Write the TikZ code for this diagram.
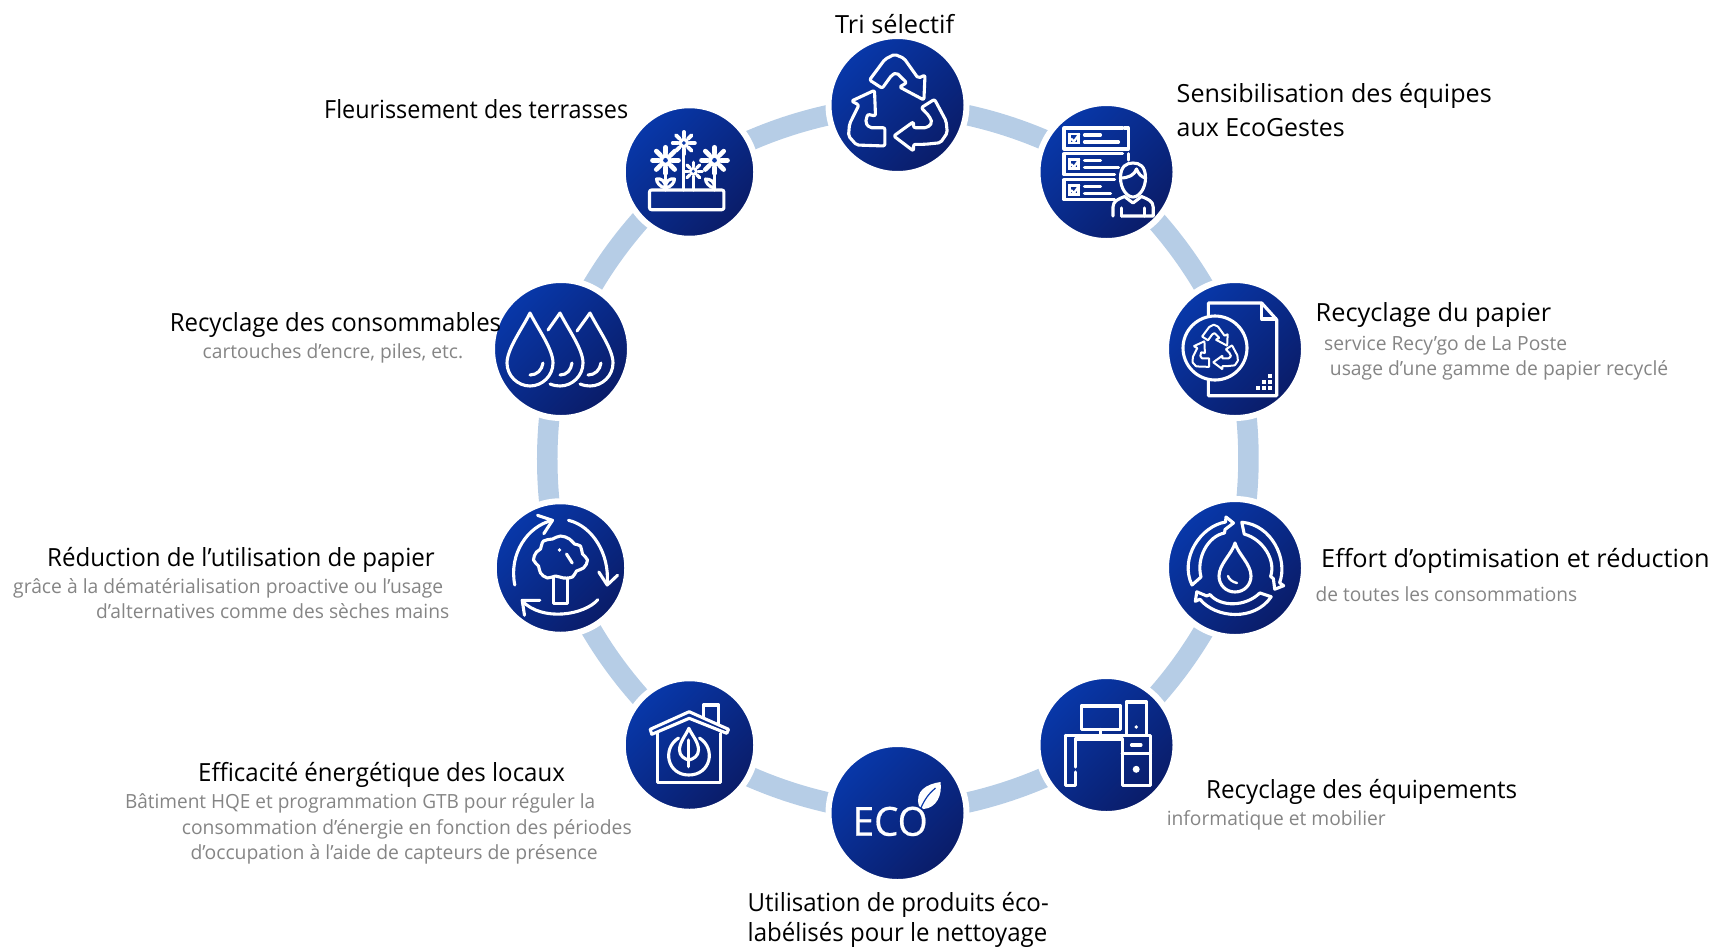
\documentclass[tikz,border=0pt]{standalone}
\usepackage{fontspec}
\usepackage{graphicx}
\setmainfont{Open Sans}
\usetikzlibrary{backgrounds,calc}
\definecolor{ringblue}{HTML}{B6CDE6}
\definecolor{subgrey}{HTML}{858585}
\definecolor{discA}{HTML}{0838AA}
\definecolor{discB}{HTML}{0A1C68}
\newcommand{\fitw}[2]{\resizebox{#1pt}{\height}{#2}}
\newcommand{\recyclearrows}[1]{%
  \draw[ico,rounded corners=#1] (-28,-25)--(-12.6,-45.7)--(-3,-50.7)--(6.5,-46.7)--(20.7,-26.7)--(27.5,-30)--(26.4,-5)--(2,-18)--(9.2,-22.3)--(-1,-32.3)--(-5.7,-30)--(-15.3,-16.7)--cycle;
  \draw[ico,rounded corners=#1] (-23,-14.7)--(-46,-4)--(-38.6,0)--(-48,19)--(-49,31)--(-41,40)--(-12.6,41)--(-12.6,22.7)--(-28,22.7)--(-32,17.7)--(-30,9.3)--(-22,11)--cycle;
  \draw[ico,rounded corners=#1] (-3.8,31)--(16,16.7)--(16,22.7)--(29.7,22.7)--(34.7,17.7)--(31.6,11)--(23.7,2.7)--(37,-5.7)--(48.6,16)--(49.8,27.7)--(43,37.7)--(27.5,39.3)--(16,39.3)--(16,46)--cycle;
}
\newcommand{\daisy}[3]{% x y radius
  \foreach \a in {0,45,...,315}{\draw[white,line width=#3*0.36pt,line cap=round] ($(#1,#2)+(\a:#3*0.55pt)$) -- ($(#1,#2)+(\a:#3*1pt)$);}
  \fill[white] (#1,#2) circle[radius=#3*0.5pt];
  \fill[discA] (#1,#2) circle[radius=#3*0.18pt];
}
\newcommand{\waterdrop}[1]{%
  \draw[ico] (#1,-36) .. controls (#1+8,-20) and (#1+23,0) .. (#1+23,14) .. controls (#1+23,27) and (#1+12,37) .. (#1,37) .. controls (#1-12,37) and (#1-23,27) .. (#1-23,14) .. controls (#1-23,0) and (#1-8,-20) .. cycle;
}
\tikzset{
  x=1pt,y=-1pt,
  disc/.style={circle,minimum size=138pt,inner sep=0pt,outer sep=0pt,draw=white,line width=6pt,top color=discA,bottom color=discB,shading angle=45},
  discsmall/.style={disc,minimum size=133.5pt},
  ringseg/.style={ringblue,line width=20.5pt,bend left=13.5,looseness=0.9},
  head/.style={anchor=base west,inner sep=0pt,font=\fontsize{25}{30}\selectfont,text=black},
  sub/.style={anchor=base west,inner sep=0pt,font=\fontsize{19.5}{24}\selectfont,text=subgrey},
  ico/.style={white,line width=3.1pt,line join=round,line cap=round},
}
\begin{document}
\begin{tikzpicture}
\useasboundingbox (0,0) rectangle (1716,946);
% discs
\node[disc] (tri) at (897.5,105) {};
\node[disc] (sens) at (1106.5,172) {};
\node[disc] (pap) at (1235,349) {};
\node[disc] (eff) at (1235,568) {};
\node[disc] (equ) at (1106.5,745) {};
\node[disc] (eco) at (897.5,813) {};
\node[discsmall] (loc) at (689.5,745) {};
\node[discsmall] (red) at (560.5,568) {};
\node[disc] (con) at (561,349) {};
\node[discsmall] (fle) at (689.5,172) {};
% ring
\begin{scope}[on background layer]
\draw[ringseg] (tri.center) to (sens.center);
\draw[ringseg] (sens.center) to (pap.center);
\draw[ringseg] (pap.center) to (eff.center);
\draw[ringseg] (eff.center) to (equ.center);
\draw[ringseg] (equ.center) to (eco.center);
\draw[ringseg] (eco.center) to (loc.center);
\draw[ringseg] (loc.center) to (red.center);
\draw[ringseg] (red.center) to (con.center);
\draw[ringseg] (con.center) to (fle.center);
\draw[ringseg] (fle.center) to (tri.center);
\end{scope}
% icon: tri
\begin{scope}[shift={(tri.center)}]
\recyclearrows{2pt}
\end{scope}
% icon: sens
\begin{scope}[shift={(sens.center)}]
\draw[ico] (16,-44)--(-42.5,-44)--(-42.5,-23)--(21.8,-23)--(21.8,-44)--(18,-44);
\draw[ico] (16,-18.3)--(-42.5,-18.3)--(-42.5,2.7)--(8,2.7);
\draw[ico] (21.8,-18.3)--(21.8,-12);
\draw[ico] (8,7.7)--(-42.5,7.7)--(-42.5,27.7)--(8,27.7);
\foreach \yy in {-33.5,-8,18}{
  \draw[white,line width=2.2pt] (-37,\yy-4.5) rectangle (-28,\yy+4.5);
  \draw[white,line width=2.2pt] (-35.5,\yy)--(-32.5,\yy+3)--(-27,\yy-5);
  \draw[ico] (-22,\yy-3.5)--(-6,\yy-3.5);
  \draw[ico] (-22,\yy+3.5)--(\ifdim\yy pt<10pt 12\else 4\fi,\yy+3.5);
}
\draw[ico] (14,6) .. controls (14,-6) and (20,-9) .. (26.5,-9) .. controls (33,-9) and (39,-6) .. (39,6) .. controls (39,16) and (33,25) .. (26.5,25) .. controls (20,25) and (14,16) .. (14,6) -- cycle;
\draw[ico] (14,6) .. controls (22,6) and (28,3) .. (30,-3) .. controls (32,2) and (35,5) .. (39,6);
\draw[ico] (6.5,44)--(6.5,35) .. controls (6.5,29) and (12,27) .. (18,24.5)--(26.5,31)--(35,24.5) .. controls (41,27) and (46.7,29) .. (46.7,35)--(46.7,44)--(15,44);
\draw[ico] (15,36)--(15,44) (38,36)--(38,44);
\end{scope}
% icon: fleur
\begin{scope}[shift={(fle.center)}]
\draw[ico,rounded corners=2pt] (-40,18) rectangle (34.4,37.7);
\draw[ico] (-24,0)--(-24,18) (25,0)--(25,18) (-5.7,-18)--(-5.7,18) (3.8,8)--(3.8,18);
\draw[ico] (-24,16) .. controls (-30,15) and (-33,10) .. (-33,7) .. controls (-28,6) and (-24,9) .. (-24,16);
\draw[ico] (-24,16) .. controls (-18,15) and (-15,10) .. (-15,7) .. controls (-20,6) and (-24,9) .. (-24,16);
\draw[ico] (25,16) .. controls (19,15) and (16,10) .. (16,7) .. controls (21,7) and (25,9) .. (25,16);
\daisy{-24}{-11.7}{13}
\daisy{25}{-11.7}{13}
\daisy{-5.7}{-29}{11}
\daisy{3.8}{-0.7}{9}
\end{scope}
% icon: papier
\begin{scope}[shift={(pap.center)}]
\draw[ico,line cap=butt] (-26.7,-31.5)--(-26.7,-46)--(26.7,-46)--(41.7,-29.3)--(41.7,46.7)--(-26.7,46.7)--(-26.7,30.5);
\draw[ico,line cap=butt] (26.7,-46)--(26.7,-30)--(41.7,-30);
\draw[ico] (-20,-1) circle[radius=32pt];
\begin{scope}[shift={(-20,-1)},scale=0.46]
\tikzset{ico/.style={white,line width=2pt,line join=miter}}
\recyclearrows{0.5pt}
\end{scope}
\foreach \p/\q in {35/27,29/33,35/33,23/39,29/39,35/39}{\fill[white] (\p-1.6,\q-1.6) rectangle (\p+1.6,\q+1.6);}
\end{scope}
% icon: effort
\begin{scope}[shift={(eff.center)}]
\foreach \r in {0,-120,-240}{
\begin{scope}[rotate=\r]
\draw[ico] (-43,17) .. controls (-56,-10) and (-34,-42) .. (-9.5,-46)--(-9,-51)--(-1.5,-45)--(-10,-38.5)--(-10.5,-35) .. controls (-27,-32) and (-39,-10) .. (-34,9)--cycle;
\end{scope}}
\draw[ico] (0,-25) .. controls (3,-14) and (16,-4) .. (16,8) .. controls (16,17) and (9,24) .. (0,24) .. controls (-9,24) and (-16,17) .. (-16,8) .. controls (-16,-4) and (-3,-14) .. cycle;
\draw[white,line width=2.4pt,line cap=round] (-7,8) .. controls (-6,11) and (-3,14) .. (2,15);
\end{scope}
% icon: equipement
\begin{scope}[shift={(equ.center)}]
\draw[ico] (-25.3,-39) rectangle (14,-15.7);
\draw[ico] (-6,-15.7)--(-6,-9.7);
\draw[ico] (19.7,-9.7)--(19.7,-43)--(40,-43)--(40,-9.7);
\fill[white] (29.7,-18) circle[radius=1.8pt];
\draw[ico] (-41,-9.7)--(44,-9.7)--(44,40.3)--(15.7,40.3)--(15.7,-6)--(-31,-6)--(-31,22);
\draw[ico] (-31,27)--(-31,40.3)--(-41,40.3)--(-41,-9.7);
\draw[ico] (15.7,8.7)--(44,8.7);
\draw[ico] (25,0)--(34.5,0);
\fill[white] (29.7,24.3) circle[radius=3.5pt];
\end{scope}
% icon: eco
\begin{scope}[shift={(eco.center)}]
\node[inner sep=0pt,anchor=base west,text=white,font=\fontsize{40}{41}\selectfont\addfontfeatures{FakeBold=0.5}] (ecotxt) at (-45,22.7) {\fitw{75}{ECO}};
\fill[white] (21.5,-7) .. controls (17,-22) and (29,-29) .. (43,-31) .. controls (45,-18) and (39,-5) .. (26,-4) -- cycle;
\draw[discA,line width=1.2pt] (23,-4) .. controls (27,-14) and (32,-20) .. (38,-25);
\end{scope}
% icon: locaux
\begin{scope}[shift={(loc.center)}]
\draw[ico] (-31.7,-11.7)--(-31.7,37.3)--(30.7,37.3)--(30.7,-11.7);
\draw[ico] (-39.3,-15.7)--(-0.3,-33.3)--(39,-15.7)--(37.3,-11.7)--(-0.3,-26.7)--(-37.7,-10.7)--cycle;
\draw[ico] (14,-28)--(14,-40)--(29,-40)--(29,-21);
\draw[ico] (-11,-7) .. controls (-28,4) and (-22,30) .. (-0.7,30) .. controls (21,30) and (27,4) .. (10,-7);
\draw[ico] (-0.7,-16.7) .. controls (-4,-9) and (-10,-3) .. (-10,5) .. controls (-10,11) and (-5,14) .. (-0.7,15) .. controls (4,14) and (9,11) .. (9,5) .. controls (9,-3) and (3,-9) .. cycle;
\draw[ico] (-0.7,-5)--(-0.7,21.7);
\end{scope}
% icon: reduction
\begin{scope}[shift={(red.center)}]
\draw[ico] (-45.7,17) .. controls (-52,-14) and (-33,-42) .. (-8,-47.7);
\draw[ico] (-23,-52.7)--(-8,-47.7)--(-16.7,-34.3);
\draw[ico] (8,-47.7) .. controls (32,-42) and (49,-14) .. (46.7,15);
\draw[ico] (38.3,4)--(46.7,17)--(57,7.3);
\draw[ico] (37.3,31.7) .. controls (24,47) and (-18,54) .. (-38.3,33);
\draw[ico] (-20.7,32.3)--(-38.3,32.3)--(-36,47.3);
\draw[ico] plot[smooth cycle,tension=0.7] coordinates {(-27,-8) (-24,-16) (-20,-19) (-17,-27) (-8,-29) (0,-32) (9,-29) (14,-24) (20,-22) (22,-14) (27,-8) (23,0) (16,3) (12,9) (3,10) (-5,8) (-13,10) (-20,5) (-22,-2)};
\draw[ico] (-7,10)--(-7,35.7)--(6.7,35.7)--(6.7,10);
\fill[white] (-1,-18) circle[radius=1.8pt];
\draw[ico] (6,-14)--(11.7,-5);
\end{scope}
% icon: consommables
\begin{scope}[shift={(con.center)}]
\waterdrop{-31}
\draw[ico] (-13,-19) -- (-1,-36) .. controls (7,-20) and (22,0) .. (22,14) .. controls (22,27) and (11,37) .. (-1,37) .. controls (-4,37) and (-7,36.5) .. (-11,35);
\draw[ico] (16,-18) -- (29,-36) .. controls (37,-20) and (52,0) .. (52,14) .. controls (52,27) and (41,37) .. (29,37) .. controls (26,37) and (23,36.5) .. (19,35);
\draw[ico] (-31,26) .. controls (-24,26) and (-19,21) .. (-18,14);
\draw[ico] (-1,26) .. controls (6,26) and (10,21) .. (11,14);
\draw[ico] (27,26) .. controls (34,26) and (39,21) .. (40,14);
\end{scope}
% texts
\node[head] (t1) at (835,33) {\fitw{119}{Tri sélectif}};
\node[head] (t2a) at (1176.5,102) {\fitw{315}{Sensibilisation des équipes}};
\node[head] (t2b) at (1176.5,136.5) {\fitw{168}{aux EcoGestes}};
\node[head] (t3) at (1315.5,321.5) {\fitw{235.5}{Recyclage du papier}};
\node[sub] (t3a) at (1324,350) {\fitw{243}{service Recy’go de La Poste}};
\node[sub] (t3b) at (1329.7,375) {\fitw{338.3}{usage d’une gamme de papier recyclé}};
\node[head] (t4) at (1321,567) {\fitw{388.5}{Effort d’optimisation et réduction}};
\node[sub] (t4a) at (1315.5,601) {\fitw{261.5}{de toutes les consommations}};
\node[head] (t5) at (1206,798) {\fitw{311}{Recyclage des équipements}};
\node[sub] (t5a) at (1166.6,825) {\fitw{219}{informatique et mobilier}};
\node[head] (t6a) at (747.5,911) {\fitw{301}{Utilisation de produits éco-}};
\node[head] (t6b) at (747.5,941) {\fitw{299.5}{labélisés pour le nettoyage}};
\node[head] (t7) at (198,781) {\fitw{366.7}{Efficacité énergétique des locaux}};
\node[sub] (t7a) at (124.8,808) {\fitw{470.2}{Bâtiment HQE et programmation GTB pour réguler la}};
\node[sub] (t7b) at (181.7,834) {\fitw{449.8}{consommation d’énergie en fonction des périodes}};
\node[sub] (t7c) at (190.4,859) {\fitw{407.1}{d’occupation à l’aide de capteurs de présence}};
\node[head] (t8) at (47,566) {\fitw{387.5}{Réduction de l’utilisation de papier}};
\node[sub] (t8a) at (13,593) {\fitw{430}{grâce à la dématérialisation proactive ou l’usage}};
\node[sub] (t8b) at (96,618) {\fitw{353}{d’alternatives comme des sèches mains}};
\node[head] (t9) at (169.6,331.5) {\fitw{331.4}{Recyclage des consommables}};
\node[sub] (t9a) at (202.5,358) {\fitw{260.5}{cartouches d’encre, piles, etc.}};
\node[head] (t10) at (324,118) {\fitw{304}{Fleurissement des terrasses}};
\end{tikzpicture}
\end{document}
